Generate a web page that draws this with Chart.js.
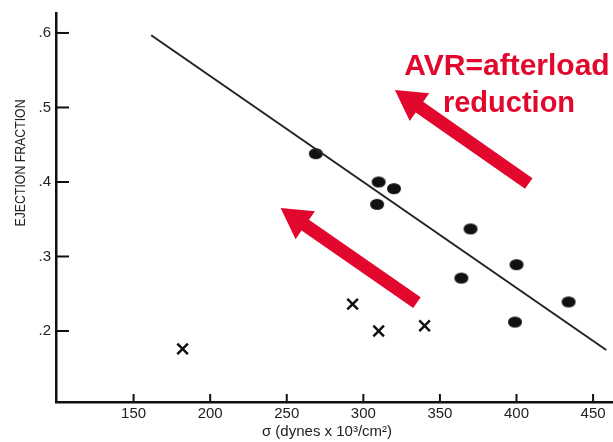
<!DOCTYPE html>
<html>
<head>
<meta charset="utf-8">
<script src="https://cdn.jsdelivr.net/npm/chart.js@4.4.1/dist/chart.umd.min.js"></script>
<style>
  html, body { margin: 0; padding: 0; background: #fff; }
  #wrap { width: 613px; height: 442px; }
</style>
</head>
<body>
<div id="wrap"><canvas id="efChart" width="613" height="442"></canvas></div>
<script>
// wall stress (x) vs ejection fraction (y)
const dotStress = [269, 310, 320, 309, 370, 364, 400, 399, 434];
const dotEF = [0.438, 0.400, 0.391, 0.370, 0.337, 0.271, 0.289, 0.212, 0.239];
const crossStress = [182, 293, 310, 340];
const crossEF = [0.176, 0.236, 0.200, 0.207];
const fitStress = [161.5, 458.6];
const fitEF = [0.597, 0.1745];

const xTicks = [150, 200, 250, 300, 350, 400, 450];
const yTicks = [0.2, 0.3, 0.4, 0.5, 0.6];

const xTitle = "\u03c3 (dynes x 10\u00b3/cm\u00b2)";
const yTitle = "EJECTION FRACTION";
const noteLines = ["AVR=afterload", "reduction"];

// arrows as [tailX, tailY, tipX, tipY] in data units
const arrows = [
  [408, 0.398, 320.6, 0.5235],
  [335, 0.238, 246, 0.365]
];

const red = '#e1072d';

function pts(xs, ys) {
  return xs.map((x, i) => ({ x: x, y: ys[i] }));
}

// slightly flattened filled dot, like the scanned markers
const dot = document.createElement('canvas');
dot.width = 16; dot.height = 13;
(function () {
  const c = dot.getContext('2d');
  c.fillStyle = '#111';
  c.beginPath();
  c.ellipse(8, 6.5, 7, 5.5, 0, 0, Math.PI * 2);
  c.fill();
})();

function drawArrow(ctx, x0, y0, x1, y1, shaft, headLen, headHalf) {
  const dx = x1 - x0, dy = y1 - y0;
  const len = Math.hypot(dx, dy);
  const ux = dx / len, uy = dy / len, nx = -uy, ny = ux;
  const bx = x1 - ux * headLen, by = y1 - uy * headLen;
  const s = shaft / 2;
  ctx.beginPath();
  ctx.moveTo(x0 + nx * s, y0 + ny * s);
  ctx.lineTo(bx + nx * s, by + ny * s);
  ctx.lineTo(bx + nx * headHalf, by + ny * headHalf);
  ctx.lineTo(x1, y1);
  ctx.lineTo(bx - nx * headHalf, by - ny * headHalf);
  ctx.lineTo(bx - nx * s, by - ny * s);
  ctx.lineTo(x0 - nx * s, y0 - ny * s);
  ctx.closePath();
  ctx.fill();
}

const overlay = {
  id: 'overlay',
  afterDraw(chart) {
    const { ctx, chartArea: a, scales: { x, y } } = chart;
    ctx.save();

    // inward tick marks
    ctx.strokeStyle = '#111';
    ctx.lineWidth = 2;
    yTicks.forEach(v => {
      const py = y.getPixelForValue(v);
      ctx.beginPath(); ctx.moveTo(a.left, py); ctx.lineTo(a.left + 13, py); ctx.stroke();
    });
    xTicks.forEach(v => {
      const px = x.getPixelForValue(v);
      ctx.beginPath(); ctx.moveTo(px, a.bottom); ctx.lineTo(px, a.bottom - 8); ctx.stroke();
    });

    // axis titles
    ctx.fillStyle = '#222';
    ctx.textAlign = 'center';
    ctx.textBaseline = 'middle';
    ctx.font = '15px "Liberation Sans"';
    ctx.fillText(xTitle, 327, 432);
    ctx.save();
    ctx.translate(21, 163);
    ctx.rotate(-Math.PI / 2);
    ctx.scale(0.82, 1);
    ctx.fillText(yTitle, 0, 0);
    ctx.restore();

    // red annotation
    ctx.fillStyle = red;
    arrows.forEach(([tx, ty, hx, hy]) => {
      drawArrow(ctx, x.getPixelForValue(tx), y.getPixelForValue(ty),
        x.getPixelForValue(hx), y.getPixelForValue(hy), 13, 30, 17);
    });
    ctx.textBaseline = 'alphabetic';
    ctx.font = 'bold 30px "Liberation Sans"';
    ctx.fillText(noteLines[0], 507, 75);
    ctx.font = 'bold 29px "Liberation Sans"';
    ctx.fillText(noteLines[1], 509, 112);

    ctx.restore();
  }
};

new Chart(document.getElementById('efChart').getContext('2d'), {
  type: 'scatter',
  data: {
    datasets: [
      {
        label: 'fit',
        data: pts(fitStress, fitEF),
        showLine: true,
        borderColor: '#222',
        borderWidth: 2,
        pointRadius: 0
      },
      {
        label: 'dots',
        data: pts(dotStress, dotEF),
        pointStyle: dot
      },
      {
        label: 'crosses',
        data: pts(crossStress, crossEF),
        pointStyle: 'crossRot',
        pointRadius: 7.5,
        borderColor: '#111',
        borderWidth: 2.5
      }
    ]
  },
  options: {
    responsive: false,
    animation: false,
    devicePixelRatio: 1,
    layout: { autoPadding: false, padding: { top: 13, right: 0, left: 0, bottom: 0 } },
    plugins: {
      legend: { display: false },
      tooltip: { enabled: false }
    },
    scales: {
      x: {
        type: 'linear',
        min: 99.35,
        max: 463,
        afterBuildTicks: s => { s.ticks = xTicks.map(v => ({ value: v })); },
        afterFit: s => { s.height = 40; s.paddingLeft = 0; s.paddingRight = 0; },
        grid: { display: false, drawTicks: false },
        border: { display: true, color: '#111', width: 2.5 },
        ticks: {
          padding: 3,
          color: '#222',
          font: { family: '"Liberation Sans"', size: 15 },
          maxRotation: 0
        }
      },
      y: {
        type: 'linear',
        min: 0.1047,
        max: 0.6268,
        afterBuildTicks: s => { s.ticks = yTicks.map(v => ({ value: v })); },
        afterFit: s => { s.width = 56; s.paddingTop = 0; s.paddingBottom = 0; },
        grid: { display: false, drawTicks: false },
        border: { display: true, color: '#111', width: 2.5 },
        ticks: {
          padding: 5,
          color: '#222',
          font: { family: '"Liberation Sans"', size: 15 },
          callback: v => '.' + Math.round(v * 10)
        }
      }
    }
  },
  plugins: [overlay]
});
</script>
</body>
</html>
